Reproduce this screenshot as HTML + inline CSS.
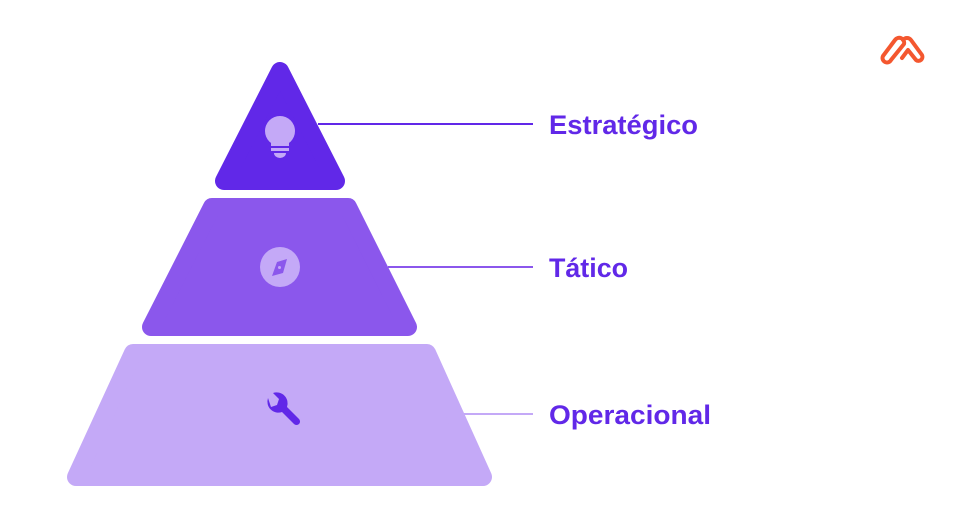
<!DOCTYPE html>
<html><head><meta charset="utf-8"><style>html,body{margin:0;padding:0;background:#fff}svg{display:block}</style></head>
<body>
<svg width="960" height="525" viewBox="0 0 960 525" xmlns="http://www.w3.org/2000/svg">
<g stroke-linejoin="round" stroke-width="18">
<polygon points="280,71 224,181 336,181" fill="#6128E8" stroke="#6128E8"/>
<polygon points="212,207 348,207 408,327 151,327" fill="#8B57EC" stroke="#8B57EC"/>
<polygon points="133,353 427,353 483,477 76,477" fill="#C4A9F7" stroke="#C4A9F7"/>
</g>
<line x1="318" y1="124" x2="533" y2="124" stroke="#6128E8" stroke-width="2"/>
<line x1="388" y1="267" x2="533" y2="267" stroke="#8B57EC" stroke-width="2"/>
<line x1="462" y1="414" x2="533" y2="414" stroke="#C4A9F7" stroke-width="2"/>
<!-- bulb -->
<circle cx="280" cy="131" r="15" fill="#C4A9F7"/>
<rect x="271" y="140" width="18" height="6" fill="#C4A9F7"/>
<rect x="271" y="148" width="18" height="3" fill="#C4A9F7"/>
<path d="M274,153 h12 a6,5 0 0 1 -12,0z" fill="#C4A9F7"/>
<!-- compass -->
<circle cx="280" cy="267" r="20" fill="#C4A9F7"/>
<polygon points="287,259 283,273 272,276 277,262" fill="#8B57EC"/>
<circle cx="279.5" cy="267.5" r="1.5" fill="#C4A9F7"/>
<!-- wrench -->
<g fill="#6128E8">
<path d="M268,398 a11,11 0 0 0 14,14 l12,12 a3,3 0 0 0 5,-5 l-12,-12 a11,11 0 0 0 -14,-14 l6,6 -2,6 -6,2z"/>
</g>
<g font-family="Liberation Sans, sans-serif" font-weight="bold" font-size="27" fill="#6128E8">
<text x="549" y="134" textLength="149" lengthAdjust="spacingAndGlyphs">Estratégico</text>
<text x="549" y="277" textLength="79" lengthAdjust="spacingAndGlyphs">Tático</text>
<text x="549" y="424" textLength="162" lengthAdjust="spacingAndGlyphs">Operacional</text>
</g>
<!-- logo -->
<g fill="none" stroke="#F4572F" stroke-width="4" stroke-linecap="round" stroke-linejoin="round">
<path d="M883,56 L895,40 a5,5 0 0 1 9,4 L891,60 a4,4 0 0 1 -8,-4z"/>
<path d="M902,58 L908,50 L916,60 a4,4 0 0 0 6,-5 L911,40 a5,5 0 0 0 -8,0"/>
</g>
</svg>
</body></html>
